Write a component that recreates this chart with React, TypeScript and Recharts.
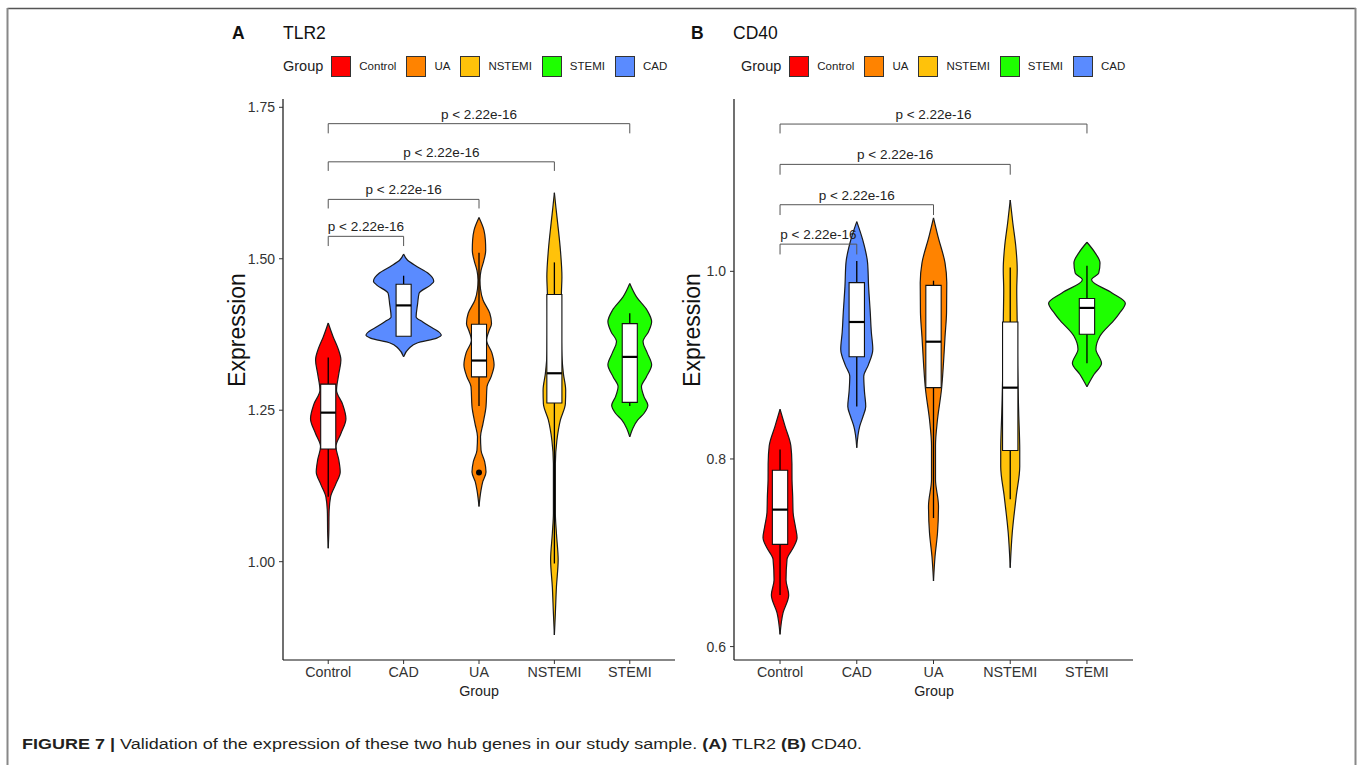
import React from "react";
import { ComposedChart, Area, XAxis, YAxis, ReferenceArea, ReferenceLine, ReferenceDot } from "recharts";

const FONT = "'Liberation Sans', Arial, Helvetica, sans-serif";

// x axis order and legend order differ in the figure
const axisGroups = ["Control", "CAD", "UA", "NSTEMI", "STEMI"];
const legendGroups = ["Control", "UA", "NSTEMI", "STEMI", "CAD"];
const groupColors: Record<string, string> = {
  Control: "#ff0000",
  UA: "#ff8300",
  NSTEMI: "#ffc20a",
  STEMI: "#1eff00",
  CAD: "#5a8bff",
};
const pLabel = "p < 2.22e-16";

// violin outlines: [expression, half width in category units]
const tlr2Control = [[1.394, 0], [1.371, 0.066], [1.352, 0.13], [1.333, 0.168], [1.31, 0.14], [1.283, 0.11], [1.26, 0.19], [1.236, 0.235], [1.212, 0.17], [1.19, 0.102], [1.168, 0.14], [1.148, 0.159], [1.128, 0.1], [1.107, 0.031], [1.08, 0.011], [1.05, 0.008], [1.022, 0]];
const tlr2Cad = [[1.508, 0], [1.498, 0.05], [1.487, 0.18], [1.476, 0.325], [1.463, 0.4], [1.457, 0.36], [1.443, 0.205], [1.426, 0.186], [1.404, 0.166], [1.396, 0.25], [1.388, 0.35], [1.38, 0.46], [1.374, 0.5], [1.369, 0.44], [1.361, 0.18], [1.352, 0.07], [1.338, 0]];
const tlr2Ua = [[1.568, 0], [1.547, 0.066], [1.53, 0.085], [1.514, 0.089], [1.495, 0.06], [1.481, 0.027], [1.465, 0.013], [1.45, 0.02], [1.432, 0.053], [1.41, 0.143], [1.393, 0.166], [1.38, 0.13], [1.366, 0.1], [1.345, 0.17], [1.325, 0.2], [1.305, 0.16], [1.289, 0.106], [1.256, 0.093], [1.228, 0.053], [1.206, 0.02], [1.184, 0.027], [1.165, 0.075], [1.148, 0.093], [1.132, 0.05], [1.118, 0.027], [1.091, 0]];
const tlr2Nstemi = [[1.609, 0], [1.585, 0.02], [1.558, 0.044], [1.514, 0.08], [1.47, 0.1], [1.443, 0.093], [1.4, 0.09], [1.35, 0.095], [1.31, 0.12], [1.283, 0.15], [1.261, 0.146], [1.234, 0.08], [1.2, 0.033], [1.162, 0.013], [1.08, 0.013], [1.047, 0.027], [1.003, 0.05], [0.958, 0.027], [0.915, 0.013], [0.879, 0]];
const tlr2Stemi = [[1.459, 0], [1.437, 0.089], [1.415, 0.23], [1.396, 0.29], [1.38, 0.25], [1.363, 0.176], [1.345, 0.23], [1.325, 0.29], [1.305, 0.22], [1.289, 0.155], [1.272, 0.19], [1.258, 0.24], [1.245, 0.19], [1.234, 0.106], [1.22, 0.04], [1.206, 0]];

const cd40Control = [[0.853, 0], [0.835, 0.065], [0.814, 0.141], [0.795, 0.155], [0.778, 0.156], [0.76, 0.165], [0.743, 0.17], [0.728, 0.2], [0.716, 0.222], [0.705, 0.17], [0.693, 0.091], [0.671, 0.078], [0.655, 0.113], [0.636, 0.039], [0.613, 0]];
const cd40Cad = [[1.053, 0], [1.034, 0.076], [1.009, 0.141], [0.984, 0.154], [0.956, 0.176], [0.935, 0.19], [0.917, 0.209], [0.9, 0.15], [0.888, 0.091], [0.872, 0.1], [0.856, 0.117], [0.845, 0.08], [0.835, 0.039], [0.812, 0]];
const cd40Ua = [[1.057, 0], [1.037, 0.059], [1.009, 0.15], [0.988, 0.173], [0.956, 0.17], [0.93, 0.15], [0.902, 0.13], [0.874, 0.104], [0.842, 0.052], [0.814, 0.026], [0.778, 0.026], [0.75, 0.065], [0.721, 0.052], [0.696, 0.02], [0.67, 0]];
const cd40Nstemi = [[1.076, 0], [1.052, 0.033], [1.027, 0.072], [1.002, 0.091], [0.98, 0.085], [0.949, 0.09], [0.9, 0.095], [0.85, 0.11], [0.809, 0.124], [0.792, 0.124], [0.76, 0.078], [0.721, 0.026], [0.684, 0]];
const cd40Stemi = [[1.031, 0], [1.02, 0.104], [1.009, 0.17], [0.998, 0.153], [0.991, 0.06], [0.977, 0.326], [0.966, 0.5], [0.955, 0.42], [0.949, 0.365], [0.931, 0.17], [0.917, 0.117], [0.902, 0.19], [0.89, 0.091], [0.877, 0]];

// box stats per group (axis order): [low whisker, q1, median, q3, high whisker]
const tlr2Stats = [
  [1.107, 1.186, 1.246, 1.293, 1.337],
  [1.372, 1.372, 1.423, 1.458, 1.472],
  [1.257, 1.305, 1.332, 1.392, 1.51],
  [0.997, 1.262, 1.311, 1.441, 1.494],
  [1.257, 1.263, 1.338, 1.393, 1.41],
];
const cd40Stats = [
  [0.655, 0.709, 0.746, 0.788, 0.81],
  [0.856, 0.909, 0.946, 0.988, 1.011],
  [0.737, 0.876, 0.925, 0.985, 0.99],
  [0.757, 0.809, 0.876, 0.946, 1.004],
  [0.902, 0.933, 0.961, 0.971, 1.006],
];
const tlr2Outliers = [[3, 1.147]];
const cd40Outliers: number[][] = [];

// comparisons against Control: [other group position, bar height, tip end]
const tlr2Brackets = [[2, 1.537, 1.521], [3, 1.598, 1.583], [4, 1.66, 1.645], [5, 1.723, 1.707]];
const cd40Brackets = [[2, 1.029, 1.018], [3, 1.071, 1.06], [4, 1.114, 1.103], [5, 1.157, 1.147]];

const tlr2Ticks = [1.0, 1.25, 1.5, 1.75];
const cd40Ticks = [0.6, 0.8, 1.0];

const BOX_HALF = 0.1;

function ViolinPanel(props: any) {
  const { left, top, violins, stats, outliers, brackets, domain, ticks, digits, yWidth, mLeft, mRight } = props;
  return (
    <div style={{ position: "absolute", left, top }}>
      <ComposedChart width={490} height={620} layout="vertical" margin={{ top: 9, right: mRight, bottom: 20, left: mLeft }}>
        <XAxis
          type="number"
          domain={[0.4, 5.6]}
          ticks={[1, 2, 3, 4, 5]}
          allowDataOverflow
          tickFormatter={(i: number) => axisGroups[i - 1]}
          height={30}
          tickSize={4}
          tickMargin={3}
          axisLine={{ stroke: "#111", strokeWidth: 1.2 }}
          tickLine={{ stroke: "#333" }}
          tick={{ fill: "#333", fontSize: 14.3 }}
        />
        <YAxis
          type="number"
          dataKey="v"
          domain={domain}
          ticks={ticks}
          reversed
          allowDataOverflow
          width={yWidth}
          tickFormatter={(v: number) => v.toFixed(digits)}
          tickSize={4}
          tickMargin={4}
          axisLine={{ stroke: "#111", strokeWidth: 1.2 }}
          tickLine={{ stroke: "#333" }}
          tick={{ fill: "#333", fontSize: 14 }}
        />
        {violins.map((profile: number[][], i: number) => (
          <Area
            key={axisGroups[i]}
            data={profile.map(([v, w]) => ({ v, range: [i + 1 - w, i + 1 + w] }))}
            dataKey="range"
            type="monotone"
            fill={groupColors[axisGroups[i]]}
            fillOpacity={1}
            stroke="#1a1a1a"
            strokeWidth={1.2}
            isAnimationActive={false}
          />
        ))}
        {stats.map((s: number[], i: number) => (
          <ReferenceLine key={"wl" + i} segment={[{ x: i + 1, y: s[0] }, { x: i + 1, y: s[1] }]} stroke="#000" strokeWidth={1.3} zIndex={450} />
        ))}
        {stats.map((s: number[], i: number) => (
          <ReferenceLine key={"wh" + i} segment={[{ x: i + 1, y: s[3] }, { x: i + 1, y: s[4] }]} stroke="#000" strokeWidth={1.3} zIndex={450} />
        ))}
        {stats.map((s: number[], i: number) => (
          <ReferenceArea key={"box" + i} x1={i + 1 - BOX_HALF} x2={i + 1 + BOX_HALF} y1={s[1]} y2={s[3]} fill="#fff" fillOpacity={1} stroke="#111" strokeWidth={1.1} zIndex={460} />
        ))}
        {stats.map((s: number[], i: number) => (
          <ReferenceLine key={"med" + i} segment={[{ x: i + 1 - BOX_HALF, y: s[2] }, { x: i + 1 + BOX_HALF, y: s[2] }]} stroke="#000" strokeWidth={2.2} zIndex={470} />
        ))}
        {outliers.map(([g, v]: number[], i: number) => (
          <ReferenceDot key={"out" + i} x={g} y={v} r={3} fill="#000" stroke="none" zIndex={480} />
        ))}
        {brackets.map(([g, bar, tip]: number[], i: number) => (
          <ReferenceLine
            key={"bh" + i}
            segment={[{ x: 1, y: bar }, { x: g, y: bar }]}
            stroke="#555"
            strokeWidth={1}
            label={{ value: pLabel, position: "top", offset: 5, fontSize: 13.5, fill: "#222" }}
            zIndex={490}
          />
        ))}
        {brackets.map(([g, bar, tip]: number[], i: number) => (
          <ReferenceLine key={"bl" + i} segment={[{ x: 1, y: tip }, { x: 1, y: bar }]} stroke="#555" strokeWidth={1} zIndex={490} />
        ))}
        {brackets.map(([g, bar, tip]: number[], i: number) => (
          <ReferenceLine key={"br" + i} segment={[{ x: g, y: tip }, { x: g, y: bar }]} stroke="#555" strokeWidth={1} zIndex={490} />
        ))}
      </ComposedChart>
    </div>
  );
}

function GroupLegend({ left, top }: { left: number; top: number }) {
  return (
    <div style={{ position: "absolute", left, top, display: "flex", alignItems: "center", height: 22, color: "#222" }}>
      <span style={{ fontSize: 14.5, marginRight: 8 }}>Group</span>
      {legendGroups.map((g) => (
        <React.Fragment key={g}>
          <span style={{ width: 18, height: 19, background: groupColors[g], border: "1px solid #333", display: "inline-block" }} />
          <span style={{ fontSize: 11.5, marginLeft: 8, marginRight: 10 }}>{g}</span>
        </React.Fragment>
      ))}
    </div>
  );
}

export default function App() {
  return (
    <div style={{ position: "absolute", left: 0, top: 0, width: 1357, height: 765, background: "#fff", fontFamily: FONT, overflow: "hidden" }}>
      <ViolinPanel
        left={200}
        top={90}
        violins={[tlr2Control, tlr2Cad, tlr2Ua, tlr2Nstemi, tlr2Stemi]}
        stats={tlr2Stats}
        outliers={tlr2Outliers}
        brackets={tlr2Brackets}
        domain={[0.8377, 1.7637]}
        ticks={tlr2Ticks}
        digits={2}
        yWidth={60}
        mLeft={23}
        mRight={15}
      />
      <ViolinPanel
        left={660}
        top={90}
        violins={[cd40Control, cd40Cad, cd40Ua, cd40Nstemi, cd40Stemi]}
        stats={cd40Stats}
        outliers={cd40Outliers}
        brackets={cd40Brackets}
        domain={[0.5857, 1.1837]}
        ticks={cd40Ticks}
        digits={1}
        yWidth={50}
        mLeft={24}
        mRight={17}
      />
      <GroupLegend left={283} top={55} />
      <GroupLegend left={741} top={55} />
      <svg width={1357} height={765} style={{ position: "absolute", left: 0, top: 0, pointerEvents: "none" }}>
        <line x1={7.5} y1={8.5} x2={1356} y2={8.5} stroke="#555" strokeWidth={1.5} />
        <line x1={7.5} y1={8} x2={7.5} y2={765} stroke="#888" strokeWidth={2} />
        <line x1={1355.5} y1={8} x2={1355.5} y2={765} stroke="#888" strokeWidth={2} />

        <text x={232} y={39} fontSize={17.5} fontWeight="bold" fill="#111">A</text>
        <text x={283} y={39} fontSize={17.5} fill="#111">TLR2</text>
        <text x={691} y={39} fontSize={17.5} fontWeight="bold" fill="#111">B</text>
        <text x={733} y={39} fontSize={17.5} fill="#111">CD40</text>

        <text x={245} y={330} fontSize={23} fill="#111" textAnchor="middle" transform="rotate(-90 245 330)">Expression</text>
        <text x={700} y={330} fontSize={23} fill="#111" textAnchor="middle" transform="rotate(-90 700 330)">Expression</text>
        <text x={479} y={696} fontSize={14.3} fill="#222" textAnchor="middle">Group</text>
        <text x={934} y={696} fontSize={14.3} fill="#222" textAnchor="middle">Group</text>

        <text x={22} y={749} fontSize={15.5} fill="#231f20" textLength={840} lengthAdjust="spacingAndGlyphs" style={{ whiteSpace: "pre" }}>
          <tspan fontWeight="bold">FIGURE 7 |</tspan>
          <tspan> Validation of the expression of these two hub genes in our study sample. </tspan>
          <tspan fontWeight="bold">(A)</tspan>
          <tspan> TLR2 </tspan>
          <tspan fontWeight="bold">(B)</tspan>
          <tspan> CD40.</tspan>
        </text>
      </svg>
    </div>
  );
}
